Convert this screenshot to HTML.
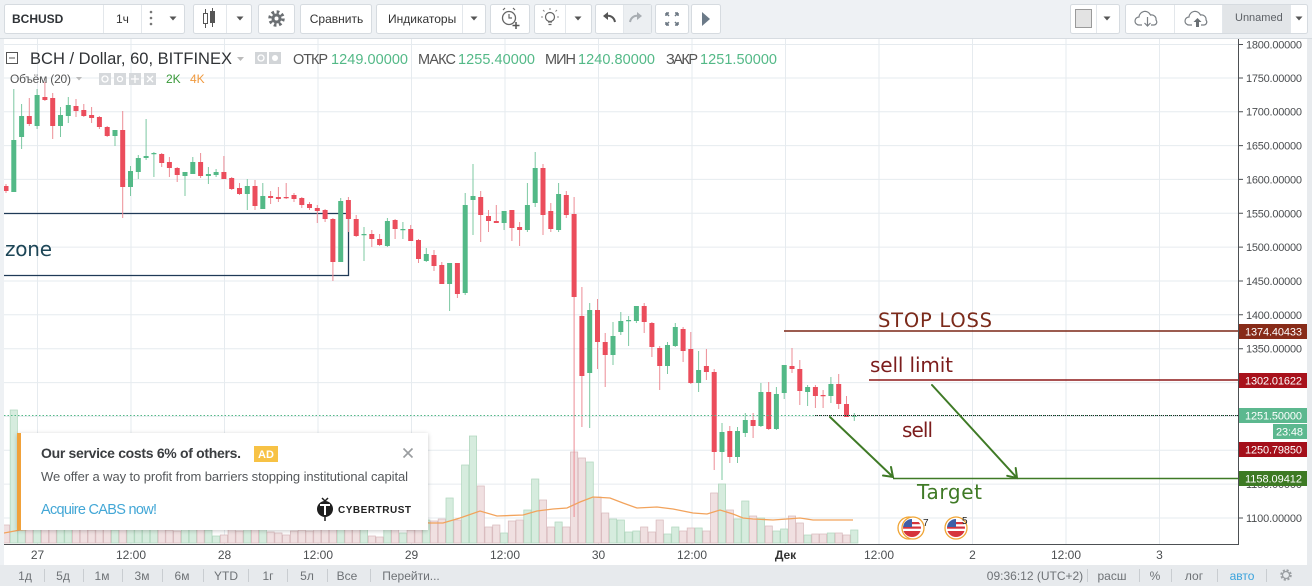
<!DOCTYPE html>
<html><head><meta charset="utf-8">
<style>
*{margin:0;padding:0;box-sizing:border-box}
html,body{width:1312px;height:586px;overflow:hidden;background:#eef1f4}
svg{position:absolute;left:0;top:0;display:block}
</style></head>
<body>
<svg width="1312" height="586" viewBox="0 0 1312 586" xmlns="http://www.w3.org/2000/svg" font-family="Liberation Sans, Arial, sans-serif">
<defs>
<clipPath id="pane"><rect x="4" y="39" width="1234" height="505"/></clipPath>
<filter id="sh" x="-5%" y="-10%" width="110%" height="130%"><feDropShadow dx="0" dy="1" stdDeviation="2" flood-color="#000" flood-opacity="0.22"/></filter>
<clipPath id="c1"><circle cx="912" cy="528" r="9"/></clipPath>
<clipPath id="c2"><circle cx="956" cy="528" r="9"/></clipPath>
</defs>

<!-- top toolbar -->
<rect x="0" y="0" width="1312" height="38" fill="#eef1f4"/>
<line x1="0" y1="38.5" x2="1312" y2="38.5" stroke="#d7dce1"/>
<g fill="#fff" stroke="#d6dbe0">
<rect x="4.5" y="4.5" width="180" height="29" rx="2"/>
<rect x="193.5" y="4.5" width="58" height="29" rx="2"/>
<rect x="258.5" y="4.5" width="36" height="29" rx="2"/>
<rect x="300.5" y="4.5" width="71" height="29" rx="2"/>
<rect x="376.5" y="4.5" width="109" height="29" rx="2"/>
<rect x="490.5" y="4.5" width="39" height="29" rx="2"/>
<rect x="534.5" y="4.5" width="57" height="29" rx="2"/>
<rect x="595.5" y="4.5" width="56" height="29" rx="2"/>
<rect x="655.5" y="4.5" width="33" height="29" rx="2"/>
<rect x="691.5" y="4.5" width="29" height="29" rx="2"/>
<rect x="1070.5" y="4.5" width="49" height="29" rx="2"/>
<rect x="1125.5" y="4.5" width="182" height="29" rx="2"/>
</g>
<rect x="624" y="5" width="27" height="28" fill="#eceff2"/>
<rect x="1222" y="5" width="68" height="28" fill="#e2e5e8"/>
<g stroke="#e3e7eb">
<line x1="103.5" y1="5" x2="103.5" y2="33"/><line x1="141.5" y1="5" x2="141.5" y2="33"/>
<line x1="226.5" y1="5" x2="226.5" y2="33"/><line x1="462.5" y1="5" x2="462.5" y2="33"/>
<line x1="565.5" y1="5" x2="565.5" y2="33"/><line x1="623.5" y1="5" x2="623.5" y2="33"/>
<line x1="1096.5" y1="5" x2="1096.5" y2="33"/><line x1="1174.5" y1="5" x2="1174.5" y2="33"/>
<line x1="1222.5" y1="5" x2="1222.5" y2="33"/><line x1="1290.5" y1="5" x2="1290.5" y2="33"/>
</g>
<text x="12" y="23" font-size="12" font-weight="bold" fill="#2f3337">BCHUSD</text>
<text x="116" y="23" font-size="12" fill="#333">1ч</text>
<g fill="#777"><circle cx="151" cy="12" r="1.3"/><circle cx="151" cy="18" r="1.3"/><circle cx="151" cy="24" r="1.3"/></g>
<g fill="#555">
<path d="M169.5 16.5h7l-3.5 4z"/><path d="M236.5 16.5h7l-3.5 4z"/><path d="M470.5 16.5h7l-3.5 4z"/><path d="M574.5 16.5h7l-3.5 4z"/><path d="M1103.5 16.5h7l-3.5 4z"/><path d="M1295.5 16.5h7l-3.5 4z"/>
</g>
<g stroke="#555" fill="none"><line x1="205.5" y1="9" x2="205.5" y2="28"/><rect x="203.5" y="13.5" width="4" height="10" fill="#fff"/><line x1="212.5" y1="8" x2="212.5" y2="27"/><rect x="210.5" y="11.5" width="4" height="11" fill="#555"/></g>
<circle cx="276.5" cy="18.5" r="6.5" fill="none" stroke="#6b6f73" stroke-width="3.5" stroke-dasharray="2.6 2.5"/>
<circle cx="276.5" cy="18.5" r="5" fill="#6b6f73"/><circle cx="276.5" cy="18.5" r="2" fill="#fff"/>
<text x="336.5" y="23" font-size="12" fill="#333" text-anchor="middle">Сравнить</text>
<text x="388" y="23" font-size="12" fill="#333">Индикаторы</text>
<circle cx="509" cy="18" r="6.5" fill="none" stroke="#666" stroke-width="1.3"/>
<path d="M509 14v4h3" fill="none" stroke="#666" stroke-width="1.2"/>
<path d="M503 10l2-2M515 10l-2-2" stroke="#666" stroke-width="1.2"/>
<path d="M516 22v7M512.5 25.5h7" stroke="#555" stroke-width="1.5"/>
<circle cx="550" cy="17" r="4.5" fill="none" stroke="#666" stroke-width="1.2"/>
<path d="M548 22h4M548.5 24.5h3" stroke="#666" stroke-width="1.2"/>
<path d="M550 8v2M543 17h-2M557 17h2M544.5 11.5l-1.5-1.5M555.5 11.5l1.5-1.5" stroke="#888" stroke-width="1"/>
<path d="M615 22c-1-5-5-7-9-6" fill="none" stroke="#555" stroke-width="2"/><path d="M603 16l5-4v8z" fill="#555"/>
<path d="M630 22c1-5 5-7 9-6" fill="none" stroke="#a8adb2" stroke-width="2"/><path d="M642 16l-5-4v8z" fill="#a8adb2"/>
<g stroke="#6b7782" stroke-width="1.5" fill="none"><path d="M666 13l3 3M666 13h3M666 13v3"/><path d="M678 13l-3 3M678 13h-3M678 13v3"/><path d="M666 25l3-3M666 25h3M666 25v-3"/><path d="M678 25l-3-3M678 25h-3M678 25v-3"/></g>
<path d="M702 12l8 7-8 7z" fill="#6b7a88"/>
<rect x="1075.5" y="9.5" width="16" height="18" fill="#e3e3e3" stroke="#9a9a9a"/>
<path d="M1142 25h-3a4 4 0 0 1 0-8a6 6 0 0 1 11.5-2a4.5 4.5 0 0 1 5.5 5a3 3 0 0 1-2 5h-3" fill="none" stroke="#7a7f84" stroke-width="1.2"/>
<path d="M1147.5 17v9M1144.5 23l3 3 3-3" fill="none" stroke="#7a7f84" stroke-width="1.2"/>
<path d="M1192 25h-3a4 4 0 0 1 0-8a6 6 0 0 1 11.5-2a4.5 4.5 0 0 1 5.5 5a3 3 0 0 1-2 5h-3" fill="none" stroke="#7a7f84" stroke-width="1.2"/>
<path d="M1197.5 18l-4 4h2.5v5h3v-5h2.5z" fill="#6a6f74"/>
<text x="1235" y="21" font-size="11" fill="#5d6166">Unnamed</text>

<!-- chart pane -->
<rect x="4" y="39" width="1234" height="506" fill="#fff"/>
<rect x="1239" y="39" width="68" height="526" fill="#fff"/>
<rect x="4" y="545" width="1235" height="20" fill="#fff"/>
<rect x="1307" y="39" width="5" height="526" fill="#e8ebee"/>

<g stroke="#e6ebef" stroke-width="1">
<path d="M4 44.5H1238M4 78H1238M4 111.7H1238M4 145.6H1238M4 179.4H1238M4 213.3H1238M4 247.1H1238M4 281H1238M4 314.8H1238M4 348.7H1238M4 382.6H1238M4 416.4H1238M4 450.3H1238M4 484.1H1238M4 518H1238"/>
<path d="M37.5 39V544M131 39V544M224.5 39V544M318 39V544M411.5 39V544M505 39V544M598.5 39V544M692 39V544M785.5 39V544M879 39V544M972.5 39V544M1066 39V544M1159.5 39V544"/>
</g>

<g clip-path="url(#pane)">
<path fill="#d6ecde" stroke="#b3d8c0" stroke-width="0.8" d="M10.2 410h7.2V543h-7.2zM18 505h7.2V543h-7.2zM33.5 480h7.2V543h-7.2zM56.9 520h7.2V543h-7.2zM64.7 515h7.2V543h-7.2zM111.4 530h7.2V543h-7.2zM126.9 500h7.2V543h-7.2zM134.7 515h7.2V543h-7.2zM142.5 505h7.2V543h-7.2zM150.3 525h7.2V543h-7.2zM181.4 520h7.2V543h-7.2zM189.2 525h7.2V543h-7.2zM204.8 530h7.2V543h-7.2zM212.5 536h7.2V543h-7.2zM243.7 520h7.2V543h-7.2zM259.2 520h7.2V543h-7.2zM337.1 490h7.2V543h-7.2zM360.4 520h7.2V543h-7.2zM383.8 520h7.2V543h-7.2zM399.3 533h7.2V543h-7.2zM422.7 520h7.2V543h-7.2zM446 498h7.2V543h-7.2zM461.6 465h7.2V543h-7.2zM469.4 436h7.2V543h-7.2zM500.5 533h7.2V543h-7.2zM523.8 510h7.2V543h-7.2zM531.6 479h7.2V543h-7.2zM555 522h7.2V543h-7.2zM586.1 462h7.2V543h-7.2zM609.4 519h7.2V543h-7.2zM617.2 520h7.2V543h-7.2zM625 532h7.2V543h-7.2zM632.8 531h7.2V543h-7.2zM663.9 534h7.2V543h-7.2zM671.7 527h7.2V543h-7.2zM695 528h7.2V543h-7.2zM718.4 484h7.2V543h-7.2zM733.9 519h7.2V543h-7.2zM741.7 501h7.2V543h-7.2zM757.3 518h7.2V543h-7.2zM772.8 531h7.2V543h-7.2zM780.6 529h7.2V543h-7.2zM804 535h7.2V543h-7.2zM827.3 533h7.2V543h-7.2zM850.7 530h7.2V543h-7.2z"/>
<path fill="#f0e0e1" stroke="#d9bcbf" stroke-width="0.8" d="M2.4 525h7.2V543h-7.2zM25.7 520h7.2V543h-7.2zM41.3 515h7.2V543h-7.2zM49.1 505h7.2V543h-7.2zM72.4 525h7.2V543h-7.2zM80.2 528h7.2V543h-7.2zM88 530h7.2V543h-7.2zM95.8 525h7.2V543h-7.2zM103.6 528h7.2V543h-7.2zM119.1 470h7.2V543h-7.2zM158.1 528h7.2V543h-7.2zM165.8 530h7.2V543h-7.2zM173.6 531h7.2V543h-7.2zM197 522h7.2V543h-7.2zM220.3 535h7.2V543h-7.2zM228.1 528h7.2V543h-7.2zM235.9 531h7.2V543h-7.2zM251.4 515h7.2V543h-7.2zM267 532h7.2V543h-7.2zM274.8 533h7.2V543h-7.2zM282.6 535h7.2V543h-7.2zM290.4 531h7.2V543h-7.2zM298.2 530h7.2V543h-7.2zM305.9 531h7.2V543h-7.2zM313.7 528h7.2V543h-7.2zM321.5 526h7.2V543h-7.2zM329.3 485h7.2V543h-7.2zM344.8 505h7.2V543h-7.2zM352.6 515h7.2V543h-7.2zM368.2 536h7.2V543h-7.2zM376 537h7.2V543h-7.2zM391.5 528h7.2V543h-7.2zM407.1 530h7.2V543h-7.2zM414.9 525h7.2V543h-7.2zM430.4 521h7.2V543h-7.2zM438.2 519h7.2V543h-7.2zM453.8 520h7.2V543h-7.2zM477.1 486h7.2V543h-7.2zM484.9 527h7.2V543h-7.2zM492.7 525h7.2V543h-7.2zM508.3 521h7.2V543h-7.2zM516 520h7.2V543h-7.2zM539.4 500h7.2V543h-7.2zM547.2 527h7.2V543h-7.2zM562.7 527h7.2V543h-7.2zM570.5 452h7.2V543h-7.2zM578.3 458h7.2V543h-7.2zM593.9 497h7.2V543h-7.2zM601.6 513h7.2V543h-7.2zM640.6 527h7.2V543h-7.2zM648.3 532h7.2V543h-7.2zM656.1 520h7.2V543h-7.2zM679.5 531h7.2V543h-7.2zM687.2 528h7.2V543h-7.2zM702.8 531h7.2V543h-7.2zM710.6 493h7.2V543h-7.2zM726.2 510h7.2V543h-7.2zM749.5 516h7.2V543h-7.2zM765.1 526h7.2V543h-7.2zM788.4 516h7.2V543h-7.2zM796.2 523h7.2V543h-7.2zM811.8 534h7.2V543h-7.2zM819.5 534h7.2V543h-7.2zM835.1 533h7.2V543h-7.2zM842.9 535h7.2V543h-7.2z"/>
<polyline fill="none" stroke="#f2a35c" stroke-width="1.3" points="4,533 20,530 60,527 120,524 200,525 280,526 340,522 380,520 430,523 443,523 460,518 480,511 497,516 523,515 537,511 553,509 567,508 580,502 593,497 610,498 623,503 637,508 657,507 673,509 693,513 707,514 720,510 733,514 743,518 753,519 773,520 787,519 800,518 813,520 853,520"/>

<path d="M4 213.5H348.5V275.5H4" fill="none" stroke="#1f3a57" stroke-width="1.3"/>

<path fill="none" stroke="#7cc8a2" stroke-width="1" d="M13.8 89V192M21.6 104V149M37.1 89V129M60.5 107V137M68.3 97V123M115 130V146M130.5 166V196M138.3 155V179M146.1 119V160M153.9 152V177M185 172V196M192.8 157V174M208.4 167V184M216.1 169V177M247.3 179V210M262.8 183V209M340.7 198V262M364 227V261M387.4 218V247M402.9 222V239M426.3 248V262M449.6 263V311M465.2 193V295M473 164V235M504.1 211V230M527.4 183V232M535.2 152V207M558.6 183V232M589.7 303V428M613 322V365M620.8 312V335M628.6 316V346M636.4 306V323M667.5 342V374M675.3 323V347M698.6 351V392M722 423V480M737.5 427V463M745.3 413V437M760.9 383V427M776.4 387V430M784.2 365V399M807.6 385V406M830.9 377V403M854.3 413V421M851.8 416.5H856.8"/>
<path fill="none" stroke="#ec8d96" stroke-width="1" d="M6 184V193M29.3 98V126M44.9 82V101M52.7 93V139M76 99V117M83.8 104V117M91.6 107V123M99.4 116V129M107.2 126V137M122.7 111V218M161.7 153V167M169.4 157V177M177.2 167V182M200.6 153V178M223.9 156V179M231.7 177V190M239.5 183V195M255 180V210M270.6 191V204M278.4 187V202M286.2 183V199M294 193V202M301.8 197V208M309.5 202V210M317.3 205V223M325.1 209V222M332.9 218V281M348.4 197V232M356.2 215V237M371.8 230V247M379.6 234V246M395.1 219V239M410.7 225V241M418.5 239V263M434 250V271M441.8 262V284M457.4 263V298M480.7 191V242M488.5 210V232M496.3 205V223M511.9 210V241M519.6 222V246M543 164V235M550.8 203V232M566.3 191V218M574.1 197V517M581.9 287V427M597.5 299V369M605.2 333V387M644.2 303V333M651.9 322V357M659.7 346V390M683.1 327V362M690.8 332V384M706.4 349V380M714.2 369V470M729.8 426V463M753.1 413V438M768.7 382V430M792 348V373M799.8 360V405M815.4 385V408M823.1 390V408M838.7 374V409M846.5 396V417"/>
<path fill="#53b987" d="M11.3 140h5v52h-5zM19.1 116h5v21h-5zM34.6 95h5v31h-5zM58 115h5v11h-5zM65.8 105h5v11h-5zM112.5 130h5v6h-5zM128 171h5v16h-5zM135.8 158h5v14h-5zM143.6 156h5v2h-5zM151.4 153h5v1.2h-5zM182.5 172h5v4h-5zM190.3 162h5v12h-5zM205.9 174h5v2h-5zM213.6 172h5v3h-5zM244.8 186h5v8h-5zM260.3 196h5v13h-5zM338.2 201h5v61h-5zM361.5 234h5v1.2h-5zM384.9 221h5v25h-5zM400.4 229h5v1.2h-5zM423.8 254h5v7h-5zM447.1 263h5v21h-5zM462.7 205h5v88h-5zM470.5 196h5v4h-5zM501.6 211h5v12h-5zM524.9 205h5v25h-5zM532.7 168h5v35h-5zM556.1 194h5v36h-5zM587.2 310h5v63h-5zM610.5 336h5v19h-5zM618.3 321h5v11h-5zM626.1 320h5v1.2h-5zM633.9 306h5v15h-5zM665 345h5v21h-5zM672.8 327h5v19h-5zM696.1 370h5v13h-5zM719.5 432h5v20h-5zM735 431h5v26h-5zM742.8 420h5v13h-5zM758.4 392h5v34h-5zM773.9 394h5v35h-5zM781.7 365h5v28h-5zM805.1 387h5v5h-5zM828.4 384h5v12h-5z"/>
<path fill="#eb4d5c" d="M3.5 186h5v5h-5zM26.8 116h5v8h-5zM42.4 97h5v3h-5zM50.2 98h5v28h-5zM73.5 106h5v5h-5zM81.3 110h5v6h-5zM89.1 115h5v3h-5zM96.9 117h5v10h-5zM104.7 127h5v9h-5zM120.2 130h5v57h-5zM159.2 154h5v9h-5zM166.9 162h5v6h-5zM174.7 168h5v7h-5zM198.1 162h5v14h-5zM221.4 172h5v7h-5zM229.2 178h5v11h-5zM237 188h5v6h-5zM252.5 186h5v20h-5zM268.1 196h5v2h-5zM275.9 197h5v2h-5zM283.7 197h5v1.2h-5zM291.5 195h5v4h-5zM299.3 198h5v7h-5zM307 204h5v4h-5zM314.8 208h5v3h-5zM322.6 210h5v9h-5zM330.4 219h5v43h-5zM345.9 200h5v19h-5zM353.7 219h5v17h-5zM369.3 234h5v5h-5zM377.1 239h5v6h-5zM392.6 220h5v9h-5zM408.2 229h5v12h-5zM416 240h5v19h-5zM431.5 255h5v11h-5zM439.3 265h5v19h-5zM454.9 263h5v31h-5zM478.2 197h5v18h-5zM486 216h5v5h-5zM493.8 221h5v2h-5zM509.4 210h5v18h-5zM517.1 227h5v3h-5zM540.5 168h5v47h-5zM548.3 211h5v18h-5zM563.8 195h5v20h-5zM571.6 214h5v83h-5zM579.4 316h5v60h-5zM595 310h5v32h-5zM602.7 342h5v13h-5zM641.7 306h5v16h-5zM649.4 323h5v24h-5zM657.2 348h5v18h-5zM680.6 329h5v22h-5zM688.3 349h5v34h-5zM703.9 366h5v6h-5zM711.7 372h5v80h-5zM727.3 431h5v26h-5zM750.6 420h5v6h-5zM766.2 392h5v37h-5zM789.5 366h5v3h-5zM797.3 369h5v22h-5zM812.9 387h5v9h-5zM820.6 395h5v1.2h-5zM836.2 384h5v20h-5zM844 404h5v13h-5z"/>

<line x1="4" y1="415.5" x2="1238" y2="415.5" stroke="#53b987" stroke-width="1" stroke-dasharray="1.5 2"/>
<line x1="815" y1="415.5" x2="1238" y2="415.5" stroke="#222" stroke-width="1" stroke-dasharray="1 1"/>

<line x1="784" y1="331" x2="1238" y2="331" stroke="#7b2616" stroke-width="1.5"/>
<line x1="869" y1="380" x2="1238" y2="380" stroke="#8e1818" stroke-width="1.5"/>
<line x1="893" y1="478.5" x2="1238" y2="478.5" stroke="#3f7a26" stroke-width="1.5"/>
<g stroke="#3f7a26" stroke-width="2" fill="none" stroke-linecap="round">
<path d="M830 417L893 477M891 467L893 477L883 475.5"/>
<path d="M932 385L1017 478M1015.7 468L1017 478L1007.2 475.8"/>
</g>
<g font-family="DejaVu Sans, Verdana, sans-serif" font-size="20">
<text x="5" y="256" fill="#1d4657" textLength="47">zone</text>
<text x="878" y="327" fill="#7b2a1a" font-size="19.5" textLength="114">STOP LOSS</text>
<text x="870" y="372" fill="#7c1d1d" textLength="83">sell limit</text>
<text x="902" y="437" fill="#7c1d1d" textLength="31">sell</text>
<text x="917" y="499" fill="#3f7a26" textLength="65">Target</text>
</g>

<circle cx="909" cy="528" r="11" fill="#fff" stroke="#f0a535" stroke-width="1.3"/>
<circle cx="913" cy="528" r="11" fill="#fff" stroke="#f0a535" stroke-width="1.3"/>
<g clip-path="url(#c1)"><rect x="902" y="518" width="20" height="20" fill="#fff"/><rect x="902" y="522" width="20" height="2.2" fill="#d6343c"/><rect x="902" y="526.5" width="20" height="2.2" fill="#d6343c"/><rect x="902" y="531" width="20" height="7" fill="#d6343c"/><rect x="902" y="518" width="10" height="9" fill="#3f5fa8"/></g>
<text x="923" y="526" font-size="10" fill="#222">7</text>
<circle cx="956" cy="528" r="11" fill="#fff" stroke="#f0a535" stroke-width="1.3"/>
<g clip-path="url(#c2)"><rect x="946" y="518" width="20" height="20" fill="#fff"/><rect x="946" y="522" width="20" height="2.2" fill="#d6343c"/><rect x="946" y="526.5" width="20" height="2.2" fill="#d6343c"/><rect x="946" y="531" width="20" height="7" fill="#d6343c"/><rect x="946" y="518" width="10" height="9" fill="#3f5fa8"/></g>
<text x="962" y="524" font-size="10" fill="#222">5</text>
</g>

<line x1="4" y1="544.5" x2="1239" y2="544.5" stroke="#4d5054" stroke-width="1"/>
<line x1="1238.5" y1="39" x2="1238.5" y2="545" stroke="#4d5054" stroke-width="1"/>

<g stroke="#4d5054"><path d="M1239 44.5h4M1239 78h4M1239 111.7h4M1239 145.6h4M1239 179.4h4M1239 213.3h4M1239 247.1h4M1239 281h4M1239 314.8h4M1239 348.7h4M1239 484.1h4M1239 518h4"/></g>
<g font-size="11" fill="#4a4d50">
<text x="1246" y="48.5" textLength="56">1800.00000</text>
<text x="1246" y="82" textLength="56">1750.00000</text>
<text x="1246" y="115.7" textLength="56">1700.00000</text>
<text x="1246" y="149.6" textLength="56">1650.00000</text>
<text x="1246" y="183.4" textLength="56">1600.00000</text>
<text x="1246" y="217.3" textLength="56">1550.00000</text>
<text x="1246" y="251.1" textLength="56">1500.00000</text>
<text x="1246" y="285" textLength="56">1450.00000</text>
<text x="1246" y="318.8" textLength="56">1400.00000</text>
<text x="1246" y="352.7" textLength="56">1350.00000</text>
<text x="1246" y="488.1" textLength="56">1150.00000</text>
<text x="1246" y="522" textLength="56">1100.00000</text>
</g>
<rect x="1239" y="324" width="68" height="15" fill="#872b18"/>
<rect x="1239" y="373" width="68" height="15" fill="#a8121c"/>
<rect x="1239" y="408" width="68" height="15" fill="#5cb88f"/>
<rect x="1273" y="424" width="34" height="15" fill="#5cb88f"/>
<rect x="1239" y="442" width="68" height="15" fill="#a40f1a"/>
<rect x="1239" y="471" width="68" height="15" fill="#3d7a24"/>
<g font-size="11" fill="#fff">
<text x="1245" y="335.5" textLength="57">1374.40433</text>
<text x="1245" y="384.5" textLength="57">1302.01622</text>
<text x="1245" y="419.5" textLength="57">1251.50000</text>
<text x="1276" y="435.5" textLength="27">23:48</text>
<text x="1245" y="453.5" textLength="57">1250.79850</text>
<text x="1245" y="482.5" textLength="57">1158.09412</text>
</g>

<g font-size="12" fill="#4c4f52" text-anchor="middle">
<text x="37.5" y="559">27</text><text x="131" y="559">12:00</text><text x="224.5" y="559">28</text><text x="318" y="559">12:00</text><text x="411.5" y="559">29</text><text x="505" y="559">12:00</text><text x="598.5" y="559">30</text><text x="692" y="559">12:00</text><text x="785.5" y="559" font-weight="bold" fill="#333">Дек</text><text x="879" y="559">12:00</text><text x="972.5" y="559">2</text><text x="1066" y="559">12:00</text><text x="1159.5" y="559">3</text>
</g>

<rect x="0" y="565" width="1312" height="21" fill="#e7eaed"/>
<g font-size="12" fill="#6e7276" text-anchor="middle">
<text x="25" y="580">1д</text><text x="63" y="580">5д</text><text x="102" y="580">1м</text><text x="142" y="580">3м</text><text x="182" y="580">6м</text><text x="226" y="580">YTD</text><text x="268" y="580">1г</text><text x="307" y="580">5л</text><text x="347" y="580">Все</text>
<text x="411" y="580">Перейти...</text>
<text x="1035" y="580">09:36:12 (UTC+2)</text>
<text x="1112" y="580">расш</text><text x="1155" y="580">%</text><text x="1194" y="580">лог</text>
<text x="1242" y="580" fill="#3ba3dc">авто</text>
</g>
<g stroke="#c9cdd1"><path d="M44.5 569v13M83.5 569v13M122.5 569v13M162.5 569v13M203.5 569v13M248.5 569v13M287.5 569v13M327.5 569v13M370.5 569v13M1087.5 569v13M1139.5 569v13M1171.5 569v13M1217.5 569v13M1266.5 569v13"/></g>
<circle cx="1286" cy="575" r="4.5" fill="none" stroke="#9a9ea2" stroke-width="2.5" stroke-dasharray="2 1.6"/>
<circle cx="1286" cy="575" r="3.5" fill="none" stroke="#9a9ea2" stroke-width="1.2"/>

<rect x="6.5" y="52.5" width="11" height="11" fill="none" stroke="#555"/><line x1="9" y1="58" x2="15" y2="58" stroke="#555"/>
<text x="30" y="64" font-size="16.5" fill="#303336" textLength="202">BCH / Dollar, 60, BITFINEX</text>
<path d="M237 57h7l-3.5 4z" fill="#bbb"/>
<rect x="255" y="52" width="12" height="12" fill="#d2d5d8"/><rect x="269" y="52" width="12" height="12" fill="#d2d5d8"/>
<circle cx="261" cy="58" r="3" fill="none" stroke="#fff" stroke-width="1.3"/><circle cx="275" cy="58" r="3" fill="#fff"/>
<g font-size="14.5">
<text x="293" y="64" fill="#555" textLength="35">ОТКР</text>
<text x="331" y="64" fill="#53b987" textLength="77">1249.00000</text>
<text x="418" y="64" fill="#555" textLength="38">МАКС</text>
<text x="458" y="64" fill="#53b987" textLength="77">1255.40000</text>
<text x="545" y="64" fill="#555" textLength="31">МИН</text>
<text x="578" y="64" fill="#53b987" textLength="77">1240.80000</text>
<text x="666" y="64" fill="#555" textLength="32">ЗАКР</text>
<text x="700" y="64" fill="#53b987" textLength="77">1251.50000</text>
</g>
<text x="10" y="83" font-size="12" fill="#555" textLength="61">Объём (20)</text>
<path d="M76 77h6l-3 3.5z" fill="#bbb"/>
<g fill="#d6d9dc"><rect x="99" y="73" width="12" height="12"/><rect x="114" y="73" width="12" height="12"/><rect x="129" y="73" width="12" height="12"/><rect x="144" y="73" width="12" height="12"/></g>
<g stroke="#fff" stroke-width="1.3" fill="none"><circle cx="105" cy="79" r="3"/><circle cx="120" cy="79" r="2.5"/><path d="M135 75v8M131 79h8M147 76l6 6M153 76l-6 6"/></g>
<text x="166" y="83" font-size="12" fill="#3a9a3a">2K</text>
<text x="190" y="83" font-size="12" fill="#f19a3e">4K</text>

<rect x="17" y="433" width="411" height="97" fill="#fff" filter="url(#sh)"/>
<rect x="17" y="433" width="4" height="97" fill="#f0a13a"/>
<text x="41" y="458" font-size="14" font-weight="bold" fill="#3a3d40" textLength="200">Our service costs 6% of others.</text>
<rect x="254" y="446" width="24" height="16" fill="#f7c245"/>
<text x="266" y="458" font-size="11" font-weight="bold" fill="#fff" text-anchor="middle">AD</text>
<path d="M403.5 448.5l9 9M412.5 448.5l-9 9" stroke="#9a9da0" stroke-width="1.6"/>
<text x="41" y="481" font-size="13" fill="#55585b" textLength="367">We offer a way to profit from barriers stopping institutional capital</text>
<text x="41" y="514" font-size="14.5" fill="#43a7d6" textLength="116">Acquire CABS now!</text>
<circle cx="325" cy="509" r="8" fill="#1f1f1f"/>
<path d="M320 505h10M325 505v10" stroke="#fff" stroke-width="2"/>
<path d="M322 498l3 3 3-3M325 517v4" stroke="#1f1f1f" stroke-width="1.5" fill="none"/>
<text x="338" y="513" font-size="10" font-weight="bold" fill="#222" textLength="73">CYBERTRUST</text>
</svg>
</body></html>
